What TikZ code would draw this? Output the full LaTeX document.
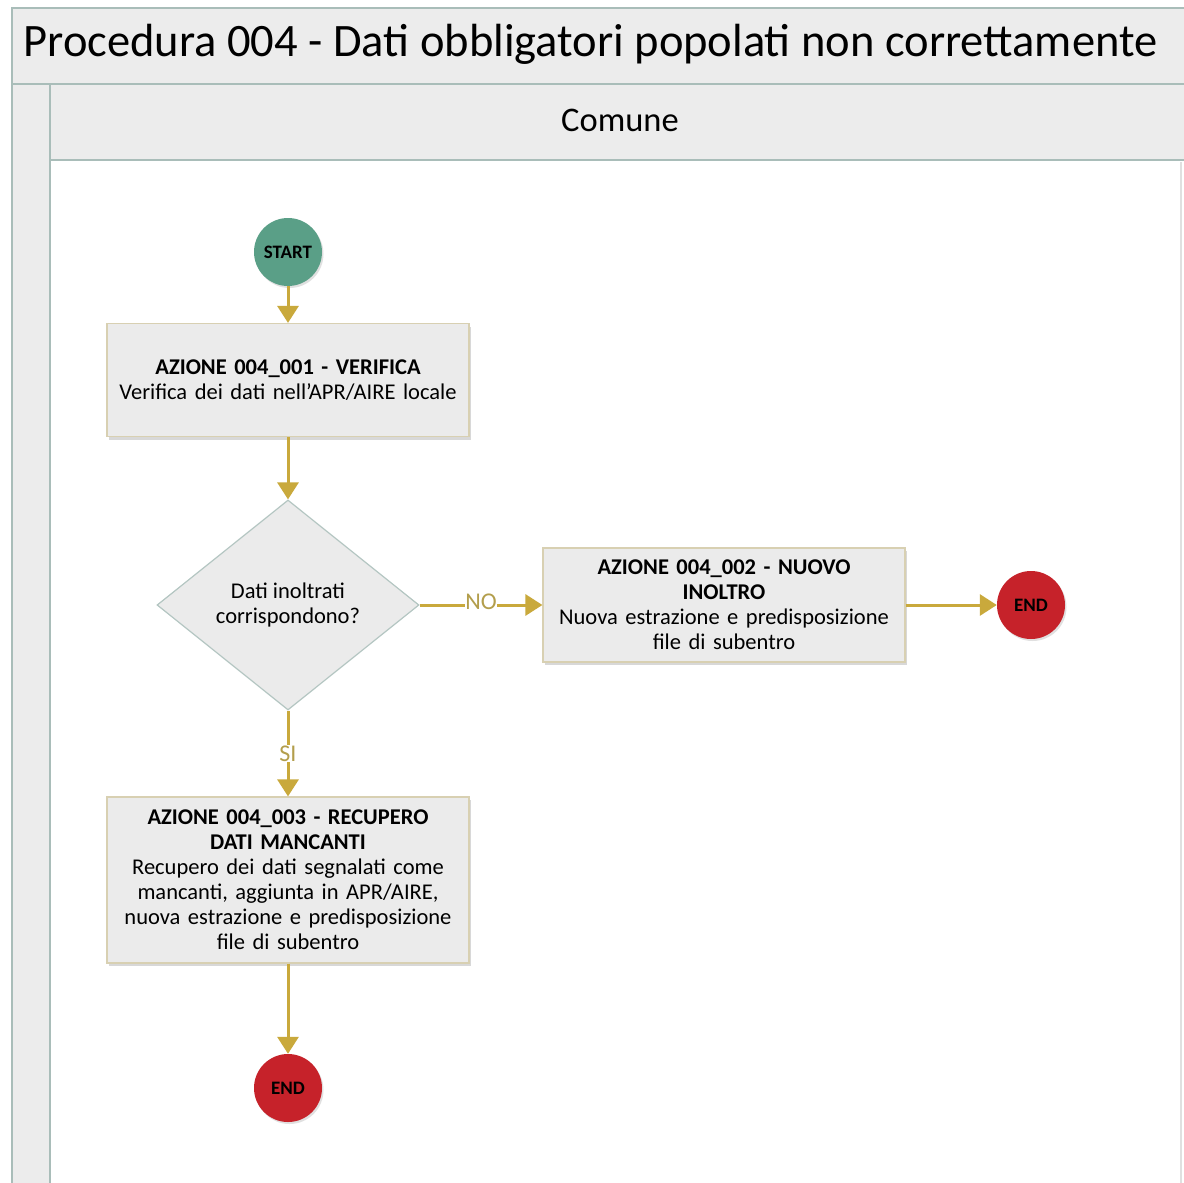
\documentclass[tikz,border=0pt]{standalone}
\usepackage{fontspec}
\setmainfont{Carlito}
\usetikzlibrary{arrows.meta,shapes.geometric,shadows,positioning}

\definecolor{lanegray}{HTML}{ECECEC}
\definecolor{laneline}{HTML}{A9BDB9}
\definecolor{boxgray}{HTML}{EBEBEB}
\definecolor{boxline}{HTML}{D8D0B2}
\definecolor{diamline}{HTML}{B4C6C2}
\definecolor{gold}{HTML}{C9A93C}
\definecolor{labelgold}{HTML}{B39E4C}
\definecolor{startgreen}{HTML}{5A9F87}
\definecolor{endred}{HTML}{C6222A}

\begin{document}
\begin{tikzpicture}[x=1pt, y=-1pt]

\tikzstyle{box1}=[rectangle, draw=boxline, line width=1.2pt, fill=boxgray, minimum width=362pt, minimum height=113pt, text width=350pt, align=center, inner sep=0pt, font=\fontsize{22.5}{25}\selectfont, drop shadow={shadow xshift=2pt, shadow yshift=-3pt, opacity=0.25, fill=black!60}]
\tikzstyle{box2}=[diamond, draw=diamline, line width=1.2pt, fill=boxgray, minimum width=262pt, minimum height=210pt, inner sep=0pt, align=center, font=\fontsize{22.5}{25}\selectfont]
\tikzstyle{startc}=[circle, fill=startgreen, minimum size=68pt, inner sep=0pt, font=\fontsize{19}{19}\selectfont\bfseries, drop shadow={shadow xshift=1.5pt, shadow yshift=-2pt, opacity=0.2, fill=black!60}]
\tikzstyle{endc}=[circle, fill=endred, minimum size=68pt, inner sep=0pt, font=\fontsize{19}{19}\selectfont\bfseries, drop shadow={shadow xshift=1.5pt, shadow yshift=-2pt, opacity=0.2, fill=black!60}]
\tikzstyle{arrow}=[-{Triangle[width=21pt,length=17pt]}, draw=gold, line width=3pt]
\tikzstyle{lbl}=[fill=white, inner sep=0.5pt, text=labelgold, font=\fontsize{24}{24}\selectfont]

\useasboundingbox (0,0) rectangle (1183,1183);

% pool and lane
\fill [white] (0,0) rectangle (1183,1183);
\draw [laneline, line width=1.5pt, fill=lanegray] (12,8) rectangle (1200,84);
\draw [laneline, line width=1.2pt, fill=lanegray] (12,84) rectangle (50,1200);
\draw [laneline, line width=1.5pt, fill=lanegray] (50,84) rectangle (1200,160);
\draw [black!12, line width=1.5pt] (1181,162) -- (1181,1183);

\node (T) [anchor=west] at (20,44) {\fontsize{46.5}{46.5}\selectfont Procedura 004 - Dati obbligatori popolati non correttamente};
\node (L) at (620,120) {\fontsize{34.5}{34.5}\selectfont Comune};

% flow
\node (S)  [startc] at (288,252)  {START};
\node (A1) [box1]   at (288,380)  {\textbf{AZIONE 004\_001 - VERIFICA}\\Verifica dei dati nell’APR/AIRE locale};
\node (D)  [box2]   at (288,605)  {Dati inoltrati\\corrispondono?};
\node (A2) [box1, minimum height=114pt] at (724,605) {\textbf{AZIONE 004\_002 - NUOVO}\\\textbf{INOLTRO}\\Nuova estrazione e predisposizione\\file di subentro};
\node (E1) [endc]   at (1031,605) {END};
\node (A3) [box1, minimum height=166pt] at (288,880) {\textbf{AZIONE 004\_003 - RECUPERO}\\\textbf{DATI MANCANTI}\\Recupero dei dati segnalati come\\mancanti, aggiunta in APR/AIRE,\\nuova estrazione e predisposizione\\file di subentro};
\node (E2) [endc]   at (288,1088) {END};

\draw [arrow] (S) -- (A1);
\draw [arrow] (A1) -- (D);
\draw [arrow] (D) -- node [lbl, yshift=3pt] {NO} (A2);
\draw [arrow] (A2) -- (E1);
\draw [arrow] (D) -- node [lbl] {SI} (A3);
\draw [arrow] (A3) -- (E2);

\end{tikzpicture}
\end{document}
